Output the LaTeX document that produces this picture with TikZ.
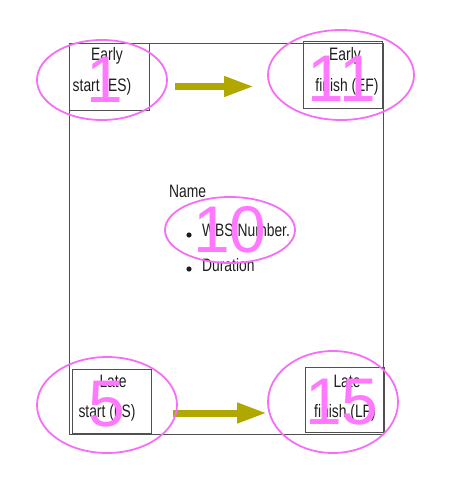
\documentclass[tikz,border=0pt]{standalone}
\usepackage{fontspec}
\setmainfont{Liberation Sans}
\usetikzlibrary{arrows.meta}
\definecolor{mag}{RGB}{245,110,245}
\definecolor{magtxt}{RGB}{255,120,255}
\definecolor{olive}{RGB}{176,168,0}
\definecolor{ink}{RGB}{30,30,30}
\definecolor{frame}{RGB}{80,80,80}
\tikzset{
  cellbox/.style={draw=frame, line width=0.9pt},
  celltxt/.style={text=ink, font=\fontsize{18}{20}\selectfont, xscale=0.77, inner sep=0pt, anchor=center},
  bigring/.style={draw=mag, line width=1.8pt},
  bignum/.style={text=magtxt, font=\fontsize{66}{66}\selectfont, inner sep=0pt, anchor=center},
  flowarrow/.style={draw=olive, line width=7pt, -{Triangle[length=30pt,width=19pt]}},
}
\begin{document}
\begin{tikzpicture}[x=1pt,y=-1pt]
\useasboundingbox (0,0) rectangle (450,478);
% outer frame
\draw[cellbox] (69,43) rectangle (383,434);
% corner boxes
\node[cellbox, minimum width=80pt, minimum height=67pt, inner sep=0pt] (es) at (109,76.5) {};
\node[cellbox, minimum width=79pt, minimum height=67pt, inner sep=0pt] (ef) at (342.5,74.5) {};
\node[cellbox, minimum width=79pt, minimum height=64pt, inner sep=0pt] (ls) at (111.5,401) {};
\node[cellbox, minimum width=79pt, minimum height=65pt, inner sep=0pt] (lf) at (344.5,399.5) {};
% box texts
\node[celltxt] (esa) at (107,56) {Early};
\node[celltxt] (esb) at (102,87) {start (ES)};
\node[celltxt] (efa) at (345,56) {Early};
\node[celltxt] (efb) at (347,87) {finish (EF)};
\node[celltxt] (lsa) at (113,381) {Late};
\node[celltxt] (lsb) at (107,413) {start (LS)};
\node[celltxt] (lfa) at (347,381) {Late};
\node[celltxt] (lfb) at (345,413) {finish (LF)};
% middle text
\node[celltxt, anchor=west] (name) at (169,191) {Name};
\node[celltxt, anchor=west] (wbs) at (202,230) {WBS Number.};
\node[celltxt, anchor=west] (dur) at (202,265) {Duration};
\fill[ink] (189,235) circle (2.6pt);
\fill[ink] (189,269) circle (2.6pt);
% arrows
\coordinate (t1) at (175,86.5);
\coordinate (t2) at (254,86.5);
\coordinate (b1) at (173,413);
\coordinate (b2) at (267,413);
\draw[flowarrow] (t1) -- (t2);
\draw[flowarrow] (b1) -- (b2);
% magenta ellipses
\draw[bigring] (102,80) ellipse [x radius=65, y radius=40];
\draw[bigring] (341,75) ellipse [x radius=73, y radius=45];
\draw[bigring] (230,230) ellipse [x radius=65, y radius=33];
\draw[bigring] (107,405) ellipse [x radius=70, y radius=48];
\draw[bigring] (333,402) ellipse [x radius=65, y radius=51];
% big numbers
\node[bignum] (n1) at (105,80) {1};
\node[bignum] (n11) at (342,79) {11};
\node[bignum] (n10) at (230,230) {10};
\node[bignum] (n5) at (107,404) {5};
\node[bignum] (n15) at (342,402) {15};
\end{tikzpicture}
\end{document}
